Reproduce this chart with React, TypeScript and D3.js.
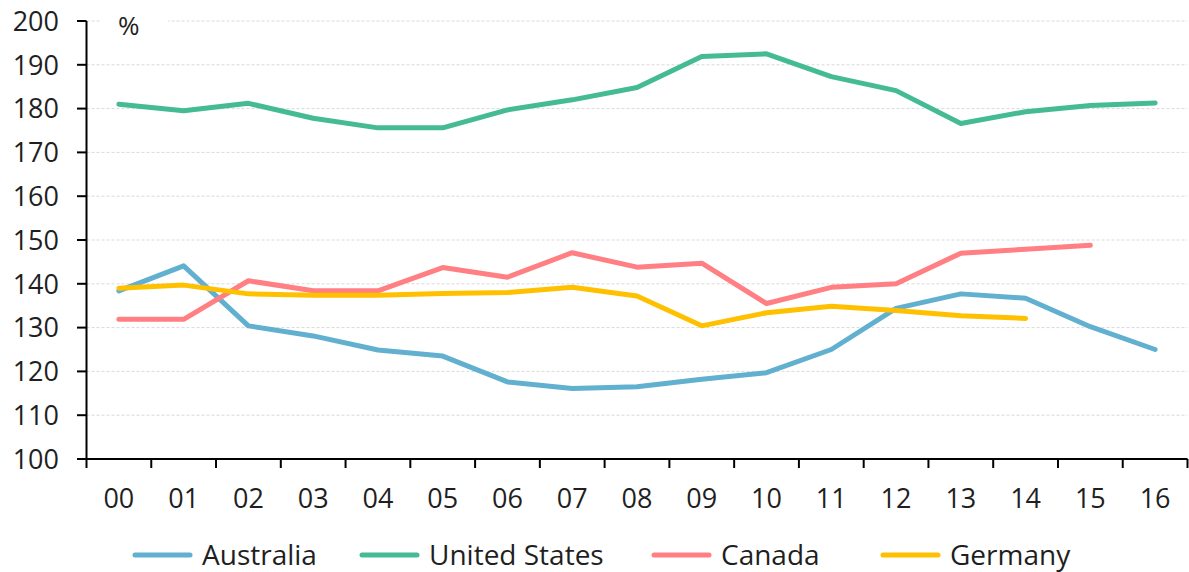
import React, { useMemo } from 'react'
import * as d3 from 'd3'

const years = ['00', '01', '02', '03', '04', '05', '06', '07', '08', '09', '10', '11', '12', '13', '14', '15', '16']
const australia = [138.4, 144.1, 130.4, 128.1, 124.9, 123.5, 117.6, 116.1, 116.5, 118.2, 119.7, 125.0, 134.4, 137.7, 136.7, 130.2, 125.0]
const unitedStates = [181.0, 179.5, 181.2, 177.8, 175.6, 175.6, 179.7, 182.0, 184.8, 191.9, 192.5, 187.3, 184.1, 176.6, 179.3, 180.7, 181.3]
const canada = [131.9, 131.9, 140.7, 138.4, 138.4, 143.7, 141.5, 147.1, 143.8, 144.7, 135.5, 139.2, 140.0, 147.0, 147.9, 148.8]
const germany = [139.0, 139.7, 137.7, 137.4, 137.4, 137.8, 138.0, 139.2, 137.2, 130.4, 133.4, 134.9, 133.9, 132.7, 132.1]
const yTicks = [100, 110, 120, 130, 140, 150, 160, 170, 180, 190, 200]

const series = [
  { name: 'Australia', values: australia, color: '#62b0cf' },
  { name: 'United States', values: unitedStates, color: '#45bb95' },
  { name: 'Canada', values: canada, color: '#ff7f83' },
  { name: 'Germany', values: germany, color: '#ffc000' },
]

const W = 1189
const H = 572
const FONT = '"Open Sans", "DejaVu Sans", sans-serif'
const TEXT = '#1f1f1f'

export default function App() {
  const x = useMemo(() => d3.scaleBand<string>().domain(years).range([86.5, 1187.5]), [])
  const y = useMemo(() => d3.scaleLinear().domain([100, 200]).range([459, 21]), [])

  const line = d3
    .line<number>()
    .x((_, i) => (x(years[i]) as number) + x.bandwidth() / 2)
    .y((d) => y(d))

  // band boundaries for the x tick marks
  const bounds = years.map((yr) => x(yr) as number).concat([x.range()[1]])

  const legendX = [135, 362, 654, 883]

  return (
    <svg width={W} height={H} style={{ position: 'absolute', left: 0, top: 0, background: '#fff' }}>
      {/* gridlines */}
      {yTicks.map((t) => (
        <line
          key={'g' + t}
          x1={86.5}
          x2={1187.5}
          y1={y(t)}
          y2={y(t)}
          stroke="#d9d9d9"
          strokeWidth={1}
          strokeDasharray="3,2"
        />
      ))}
      {/* % label with white box */}
      <rect x={100} y={12} width={68} height={22} fill="#fff" />
      <text x={118} y={35} fontFamily={FONT} fontSize={26} fill={TEXT}>
        %
      </text>

      {/* y axis */}
      <line x1={86.5} x2={86.5} y1={y(200)} y2={y(100)} stroke="#000" strokeWidth={2} />
      {yTicks.map((t) => (
        <g key={'y' + t}>
          <line x1={77} x2={86.5} y1={y(t)} y2={y(t)} stroke="#000" strokeWidth={2} />
          <text
            x={59}
            y={y(t)}
            dy="0.36em"
            textAnchor="end"
            fontFamily={FONT}
            fontSize={27}
            fill={TEXT}
          >
            {t}
          </text>
        </g>
      ))}

      {/* x axis */}
      <line x1={86.5} x2={1187.5} y1={459} y2={459} stroke="#000" strokeWidth={2} />
      {bounds.map((b, i) => (
        <line key={'xt' + i} x1={b} x2={b} y1={459} y2={468} stroke="#000" strokeWidth={2} />
      ))}
      {years.map((yr) => (
        <text
          key={'x' + yr}
          x={(x(yr) as number) + x.bandwidth() / 2}
          y={508}
          textAnchor="middle"
          fontFamily={FONT}
          fontSize={27}
          fill={TEXT}
        >
          {yr}
        </text>
      ))}

      {/* series */}
      {series.map((s) => (
        <path
          key={s.name}
          d={line(s.values) || ''}
          fill="none"
          stroke={s.color}
          strokeWidth={5}
          strokeLinecap="round"
          strokeLinejoin="round"
        />
      ))}

      {/* legend */}
      {series.map((s, i) => (
        <g key={'l' + s.name} transform={`translate(${legendX[i]},555)`}>
          <line x1={0} x2={55} y1={0} y2={0} stroke={s.color} strokeWidth={5} strokeLinecap="round" />
          <text x={67} y={0} dy="0.36em" fontFamily={FONT} fontSize={28} fill={TEXT}>
            {s.name}
          </text>
        </g>
      ))}
    </svg>
  )
}
